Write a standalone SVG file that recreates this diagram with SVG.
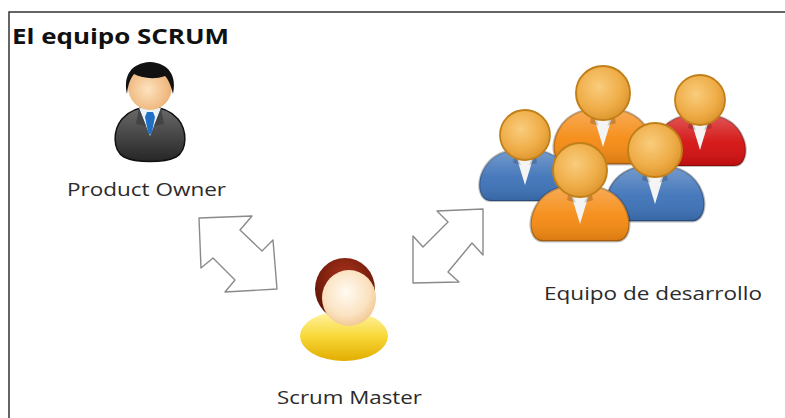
<svg xmlns="http://www.w3.org/2000/svg" xmlns:xlink="http://www.w3.org/1999/xlink" width="785" height="418" viewBox="0 0 785 418">
  <style>
    .label { font-family: "Open Sans", "Liberation Sans", sans-serif; font-size: 18px; fill: #2b2b2b; }
    .title { font-family: "Open Sans", "Liberation Sans", sans-serif; font-size: 22px; font-weight: bold; fill: #111; }
    .frame { stroke: #333; stroke-width: 1.5; fill: none; }
    .swap { fill: #fff; stroke: #8a8a8a; stroke-width: 1.4; stroke-linejoin: round; }
    .head { fill: url(#headGold); stroke: #c07f18; stroke-width: 1.8; }
    .body { fill: currentColor; stroke: #000; stroke-opacity: 0.25; stroke-width: 2.2; }
  </style>
  <defs>
    <radialGradient id="headGold" cx="0.42" cy="0.38" r="0.7">
      <stop offset="0" stop-color="#f9cc7c"/>
      <stop offset="0.6" stop-color="#efad48"/>
      <stop offset="1" stop-color="#d88f26"/>
    </radialGradient>
    <linearGradient id="bodyShine" x1="0" y1="0" x2="0" y2="1">
      <stop offset="0" stop-color="#fff" stop-opacity="0.3"/>
      <stop offset="0.55" stop-color="#fff" stop-opacity="0.05"/>
      <stop offset="1" stop-color="#000" stop-opacity="0.12"/>
    </linearGradient>
    <radialGradient id="skin" cx="0.45" cy="0.55" r="0.65">
      <stop offset="0" stop-color="#fde3bf"/>
      <stop offset="1" stop-color="#eaa867"/>
    </radialGradient>
    <linearGradient id="suit" x1="0" y1="0" x2="0" y2="1">
      <stop offset="0" stop-color="#6a6a6a"/>
      <stop offset="1" stop-color="#262626"/>
    </linearGradient>
    <radialGradient id="paleFace" cx="0.45" cy="0.4" r="0.7">
      <stop offset="0" stop-color="#fffaf2"/>
      <stop offset="0.6" stop-color="#fbe2c0"/>
      <stop offset="1" stop-color="#eebc7e"/>
    </radialGradient>
    <radialGradient id="auburn" cx="0.5" cy="0.3" r="0.7">
      <stop offset="0" stop-color="#a8321a"/>
      <stop offset="1" stop-color="#5c1206"/>
    </radialGradient>
    <linearGradient id="yellowBody" x1="0" y1="0" x2="0" y2="1">
      <stop offset="0" stop-color="#fff5a8"/>
      <stop offset="0.5" stop-color="#f8d838"/>
      <stop offset="1" stop-color="#e2ad00"/>
    </linearGradient>
    <!-- team member: head centred at the origin, body below -->
    <g id="member">
      <path class="body" d="M -34,66 C -45,66 -48,52 -44,40 C -38,23 -24,14 0,14 C 24,14 38,23 44,40 C 48,52 45,66 34,66 Z"/>
      <path d="M -34,66 C -45,66 -48,52 -44,40 C -38,23 -24,14 0,14 C 24,14 38,23 44,40 C 48,52 45,66 34,66 Z" fill="url(#bodyShine)"/>
      <path d="M -10,17 L 0,50 L 10,17 Z" fill="#f4f4f4"/>
      <path d="M -10,17 L -4,30 L -12,28 Z M 10,17 L 4,30 L 12,28 Z" fill="#000" fill-opacity="0.18"/>
      <circle class="head" cx="0" cy="0" r="25"/>
    </g>
  </defs>

  <!-- frame -->
  <path class="frame" d="M 9,418 L 9,12 L 785,12"/>

  <text class="title" x="12" y="44" textLength="217" lengthAdjust="spacingAndGlyphs">El equipo SCRUM</text>

  <!-- Product Owner -->
  <g id="product-owner">
    <path d="M 124,157 C 112,150 113,130 122,119 C 130,110 140,107 150,107 C 160,107 170,110 178,119 C 187,130 188,150 176,157 C 164,163 136,163 124,157 Z" fill="url(#suit)" stroke="#111" stroke-width="1.5"/>
    <path d="M 139,108 L 150,136 L 161,108 Z" fill="#e8f2fb"/>
    <path d="M 147,112 L 153,112 L 155,117 L 152,132 L 150,135 L 148,132 L 145,117 Z" fill="#1f6fc4"/>
    <path d="M 139,108 L 146,126 L 136,124 Z M 161,108 L 154,126 L 164,124 Z" fill="#444"/>
    <ellipse cx="150" cy="87" rx="22" ry="23" fill="url(#skin)"/>
    <path d="M 127,94 C 123,76 131,63 150,62 C 169,63 177,76 173,94 C 171,85 168,79 165,76 C 154,80 142,78 134,74 C 130,79 128,85 127,94 Z" fill="#111"/>
    <text class="label" x="67" y="196" textLength="159" lengthAdjust="spacingAndGlyphs">Product Owner</text>
  </g>

  <!-- Scrum Master -->
  <g id="scrum-master">
    <ellipse cx="344" cy="336" rx="44" ry="25" fill="url(#yellowBody)"/>
    <ellipse cx="345" cy="289" rx="30" ry="31" fill="url(#auburn)"/>
    <ellipse cx="349" cy="298" rx="27" ry="28" fill="url(#paleFace)"/>
    <text class="label" x="277" y="404" textLength="145" lengthAdjust="spacingAndGlyphs">Scrum Master</text>
  </g>

  <!-- Development team -->
  <g id="dev-team">
    <use xlink:href="#member" transform="translate(603,93) scale(1.08)" style="color:#f58a12"/>
    <use xlink:href="#member" transform="translate(700,100)" style="color:#d40f0f"/>
    <use xlink:href="#member" transform="translate(525,135)" style="color:#3d72b8"/>
    <use xlink:href="#member" transform="translate(655,150) scale(1.08)" style="color:#3d72b8"/>
    <use xlink:href="#member" transform="translate(580,170) scale(1.08)" style="color:#f58a12"/>
    <text class="label" x="544" y="300" textLength="218" lengthAdjust="spacingAndGlyphs">Equipo de desarrollo</text>
  </g>

  <!-- two-way arrows between the roles -->
  <g id="connectors">
    <path class="swap" d="M 199,218 L 252,216 L 240,230 L 262,251 L 273,240 L 277,289 L 225,292 L 235,280 L 213,258 L 201,268 Z"/>
    <path class="swap" d="M 483,209 L 437,211 L 448,222 L 423,247 L 413,236 L 413,283 L 459,282 L 448,272 L 472,243 L 483,255 Z"/>
  </g>
</svg>
